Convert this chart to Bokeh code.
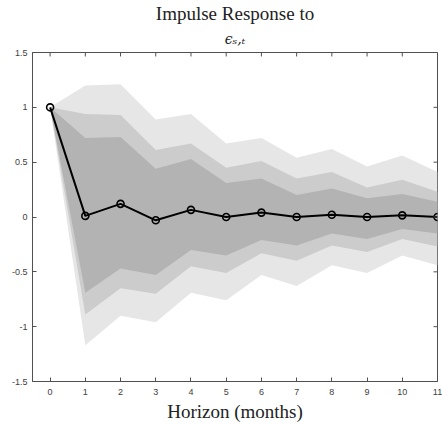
from bokeh.plotting import figure
from bokeh.models import Title, FixedTicker
from bokeh.embed import file_html
from bokeh.resources import INLINE

horizon = [0, 1, 2, 3, 4, 5, 6, 7, 8, 9, 10, 11]
irf = [1.0, 0.01, 0.12, -0.03, 0.065, 0.0, 0.04, 0.0, 0.02, 0.0, 0.015, 0.0]

outer_upper = [1.0, 1.20, 1.21, 0.89, 0.94, 0.67, 0.72, 0.54, 0.62, 0.46, 0.56, 0.41]
outer_lower = [1.0, -1.17, -0.90, -0.96, -0.69, -0.76, -0.53, -0.63, -0.44, -0.51, -0.35, -0.44]
middle_upper = [1.0, 0.94, 0.93, 0.61, 0.67, 0.45, 0.51, 0.35, 0.41, 0.27, 0.34, 0.23]
middle_lower = [1.0, -0.89, -0.65, -0.70, -0.45, -0.51, -0.33, -0.40, -0.26, -0.32, -0.20, -0.27]
inner_upper = [1.0, 0.72, 0.73, 0.44, 0.53, 0.31, 0.35, 0.20, 0.26, 0.17, 0.21, 0.14]
inner_lower = [1.0, -0.69, -0.47, -0.53, -0.30, -0.35, -0.21, -0.26, -0.15, -0.20, -0.11, -0.15]

x_ticks = [0, 1, 2, 3, 4, 5, 6, 7, 8, 9, 10, 11]
y_ticks = [-1.5, -1, -0.5, 0, 0.5, 1, 1.5]
y_tick_labels = ["-1.5", "-1", "-0.5", "0", "0.5", "1", "1.5"]
x_lim = (-0.5, 11)
y_lim = (-1.5, 1.5)

title_line1 = "Impulse Response to"
title_line2 = "\u03f5\u209b,\u209c"
x_label = "Horizon (months)"

AXIS_COLOR = "#505050"
LABEL_COLOR = "#404040"

W, H = 442, 425
BL, BR, BT, BB = 32, 5, 50, 44
TICK = 4

p = figure(width=W, height=H, x_range=x_lim, y_range=y_lim,
           output_backend="svg", toolbar_location=None,
           min_border_left=BL, min_border_right=BR, min_border_bottom=BB, min_border_top=BT)
p.title.visible = False
p.xgrid.visible = False
p.ygrid.visible = False
p.outline_line_color = AXIS_COLOR
p.outline_line_width = 1
p.background_fill_color = "white"

p.varea(x=horizon, y1=outer_lower, y2=outer_upper, fill_color="#e6e6e6")
p.varea(x=horizon, y1=middle_lower, y2=middle_upper, fill_color="#cccccc")
p.varea(x=horizon, y1=inner_lower, y2=inner_upper, fill_color="#b3b3b3")
p.line(x=horizon, y=irf, line_color="black", line_width=2)
p.scatter(x=horizon, y=irf, size=7, fill_color=None, line_color="black", line_width=1.6)

# inward ticks on the top and right edges of the box
frame_w = W - BL - BR
frame_h = H - BT - BB
dy = (y_lim[1] - y_lim[0]) * TICK / frame_h
dx = (x_lim[1] - x_lim[0]) * TICK / frame_w
p.segment(x0=x_ticks, y0=[y_lim[1]] * len(x_ticks), x1=x_ticks,
          y1=[y_lim[1] - dy] * len(x_ticks), line_color=AXIS_COLOR, line_width=1)
p.segment(x0=[x_lim[1]] * len(y_ticks), y0=y_ticks, x1=[x_lim[1] - dx] * len(y_ticks),
          y1=y_ticks, line_color=AXIS_COLOR, line_width=1)

def style_axis(ax):
    ax.axis_line_color = AXIS_COLOR
    ax.major_tick_line_color = AXIS_COLOR
    ax.major_tick_in = TICK
    ax.major_tick_out = 0
    ax.minor_tick_line_color = None
    ax.major_label_text_font = "Liberation Sans"
    ax.major_label_text_font_size = "9px"
    ax.major_label_text_color = LABEL_COLOR

xa = p.xaxis[0]
xa.ticker = FixedTicker(ticks=x_ticks)
style_axis(xa)
xa.major_label_standoff = 7
xa.axis_label = x_label
xa.axis_label_text_font = "Liberation Serif"
xa.axis_label_text_font_style = "normal"
xa.axis_label_text_font_size = "19px"
xa.axis_label_text_color = "#222222"
xa.axis_label_standoff = 3

ya = p.yaxis[0]
ya.ticker = FixedTicker(ticks=y_ticks)
ya.major_label_overrides = {t: s for t, s in zip(y_ticks, y_tick_labels)}
style_axis(ya)
ya.major_label_standoff = 5

t2 = Title(text=title_line2, align="center", text_font="DejaVu Serif",
           text_font_style="italic", text_font_size="14px", text_color="#222222",
           standoff=11)
t1 = Title(text=title_line1, align="center", text_font="Liberation Serif",
           text_font_style="normal", text_font_size="19px", text_color="#222222",
           standoff=0)
p.add_layout(t2, "above")
p.add_layout(t1, "above")

open("out.html", "w").write(file_html(p, INLINE))
